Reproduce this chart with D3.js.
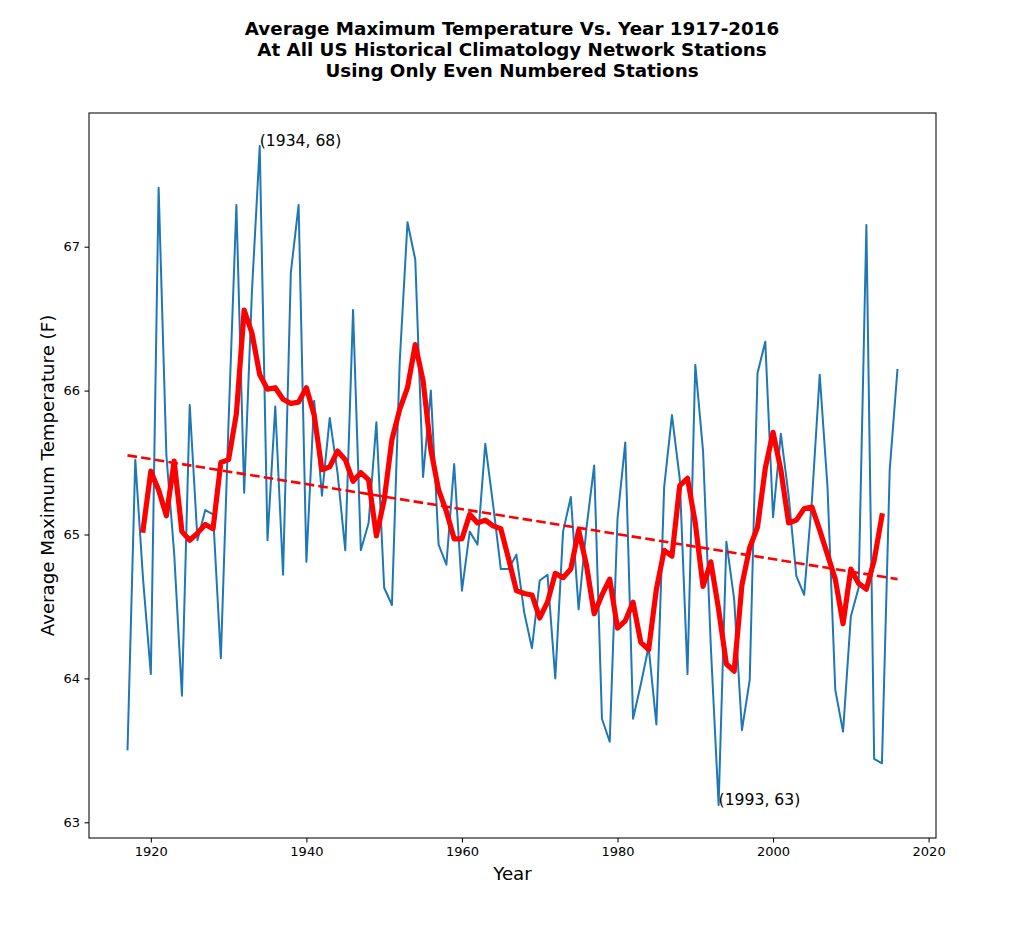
<!DOCTYPE html>
<html>
<head>
<meta charset="utf-8">
<script src="https://cdn.jsdelivr.net/npm/d3@7"></script>
<style>
body { margin: 0; background: #fff; }
text { font-family: "DejaVu Sans", sans-serif; fill: #000; }
</style>
</head>
<body>
<div id="chart"></div>
<script>
// DATA
var years = [1917, 1918, 1919, 1920, 1921, 1922, 1923, 1924, 1925, 1926,
    1927, 1928, 1929, 1930, 1931, 1932, 1933, 1934, 1935, 1936,
    1937, 1938, 1939, 1940, 1941, 1942, 1943, 1944, 1945, 1946,
    1947, 1948, 1949, 1950, 1951, 1952, 1953, 1954, 1955, 1956,
    1957, 1958, 1959, 1960, 1961, 1962, 1963, 1964, 1965, 1966,
    1967, 1968, 1969, 1970, 1971, 1972, 1973, 1974, 1975, 1976,
    1977, 1978, 1979, 1980, 1981, 1982, 1983, 1984, 1985, 1986,
    1987, 1988, 1989, 1990, 1991, 1992, 1993, 1994, 1995, 1996,
    1997, 1998, 1999, 2000, 2001, 2002, 2003, 2004, 2005, 2006,
    2007, 2008, 2009, 2010, 2011, 2012, 2013, 2014, 2015, 2016];

var temps = [63.50, 65.52, 64.69, 64.03, 67.41, 65.55, 64.87, 63.88, 65.90, 64.96,
    65.17, 65.14, 64.14, 65.79, 67.29, 65.29, 66.69, 67.70, 64.96, 65.89,
    64.72, 66.82, 67.29, 64.81, 65.93, 65.27, 65.81, 65.43, 64.89, 66.56,
    64.89, 65.08, 65.78, 64.63, 64.51, 66.20, 67.17, 66.91, 65.40, 66.00,
    64.93, 64.79, 65.49, 64.61, 65.02, 64.93, 65.63, 65.21, 64.76, 64.76,
    64.86, 64.46, 64.21, 64.68, 64.72, 64.00, 65.02, 65.26, 64.48, 65.04,
    65.48, 63.72, 63.56, 65.11, 65.64, 63.72, 63.96, 64.22, 63.68, 65.33,
    65.83, 65.39, 64.03, 66.18, 65.58, 64.22, 63.12, 64.95, 64.55, 63.64,
    63.99, 66.12, 66.34, 65.12, 65.70, 65.27, 64.71, 64.58, 65.24, 66.11,
    65.33, 63.92, 63.63, 64.43, 64.63, 67.15, 63.44, 63.41, 65.45, 66.15];

// 5 year running mean, 1919 - 2014
var avgYears = years.slice(2, 98);
var avgTemps = [65.03, 65.44, 65.31, 65.13, 65.51, 65.02, 64.96, 65.01, 65.07, 65.04,
    65.50, 65.52, 65.84, 66.56, 66.40, 66.11, 66.01, 66.02, 65.94, 65.91,
    65.92, 66.02, 65.83, 65.45, 65.47, 65.58, 65.52, 65.37, 65.43, 65.38,
    64.99, 65.24, 65.66, 65.87, 66.02, 66.32, 66.07, 65.59, 65.31, 65.16,
    64.97, 64.97, 65.14, 65.08, 65.10, 65.06, 65.04, 64.83, 64.61, 64.59,
    64.58, 64.42, 64.53, 64.73, 64.70, 64.76, 65.03, 64.79, 64.45, 64.58,
    64.69, 64.35, 64.40, 64.53, 64.25, 64.20, 64.62, 64.89, 64.85, 65.34,
    65.39, 65.08, 64.64, 64.81, 64.48, 64.10, 64.05, 64.65, 64.91, 65.05,
    65.46, 65.71, 65.45, 65.08, 65.10, 65.18, 65.19, 65.03, 64.86, 64.69,
    64.38, 64.76, 64.66, 64.62, 64.82, 65.13];

var trendYears = [1917, 2016];
var trendTemps = [65.55, 64.69];

var noteYears = [1934, 1993];
var noteTemps = [67.70, 63.12];
var noteLabels = ["(1934, 68)", "(1993, 63)"];

var xTicks = [1920, 1940, 1960, 1980, 2000, 2020];
var yTicks = [63, 64, 65, 66, 67];

var titleLines = ["Average Maximum Temperature Vs. Year 1917-2016",
    "At All US Historical Climatology Network Stations",
    "Using Only Even Numbered Stations"];

// LAYOUT
var width = 1024,
    height = 951;
var plotLeft = 89, plotRight = 936, plotTop = 113, plotBottom = 838;

var svg = d3.select("#chart").append("svg")
    .attr("width", width)
    .attr("height", height);

// matplotlib style 5% margins
var xPad = (years[years.length - 1] - years[0]) * 0.05;
var x = d3.scaleLinear()
    .domain([years[0] - xPad, years[years.length - 1] + xPad])
    .range([plotLeft, plotRight]);

var yPad = (d3.max(temps) - d3.min(temps)) * 0.05;
var y = d3.scaleLinear()
    .domain([d3.min(temps) - yPad, d3.max(temps) + yPad])
    .range([plotBottom, plotTop]);

// TITLE
svg.append("g").selectAll("text")
    .data(titleLines)
    .enter().append("text")
    .attr("x", 512)
    .attr("y", function(d, i) { return 35 + i * 21; })
    .attr("text-anchor", "middle")
    .style("font-size", "18.3px")
    .style("font-weight", "bold")
    .text(function(d) { return d; });

// LINES
var plot = svg.append("g");

var line = d3.line()
    .x(function(d) { return x(d[0]); })
    .y(function(d) { return y(d[1]); });

plot.append("path")
    .datum(d3.zip(years, temps))
    .attr("d", line)
    .attr("fill", "none")
    .attr("stroke", "#1f77b4")
    .attr("stroke-width", 2)
    .attr("stroke-linejoin", "round");

plot.append("path")
    .datum(d3.zip(avgYears, avgTemps))
    .attr("d", line)
    .attr("fill", "none")
    .attr("stroke", "#ff0000")
    .attr("stroke-width", 5.2)
    .attr("stroke-linejoin", "round")
    .attr("stroke-linecap", "square");

plot.append("path")
    .datum(d3.zip(trendYears, trendTemps))
    .attr("d", line)
    .attr("fill", "none")
    .attr("stroke", "#ff0000")
    .attr("stroke-width", 2.6)
    .attr("stroke-dasharray", "9.6,4.2");

// ANNOTATIONS
plot.selectAll("text.note")
    .data(d3.zip(noteYears, noteTemps, noteLabels))
    .enter().append("text")
    .attr("class", "note")
    .attr("x", function(d) { return x(d[0]); })
    .attr("y", function(d) { return y(d[1]); })
    .style("font-size", "15.6px")
    .text(function(d) { return d[2]; });

// AXES
var xAxis = svg.append("g")
    .attr("transform", "translate(0," + plotBottom + ")")
    .call(d3.axisBottom(x).tickValues(xTicks).tickFormat(d3.format("d")).tickSizeInner(4.5).tickSizeOuter(0).tickPadding(4.5));

var yAxis = svg.append("g")
    .attr("transform", "translate(" + plotLeft + ",0)")
    .call(d3.axisLeft(y).tickValues(yTicks).tickFormat(d3.format("d")).tickSizeInner(4.5).tickSizeOuter(0).tickPadding(4.5));

[xAxis, yAxis].forEach(function(a) {
    a.select(".domain").remove();
    a.selectAll("line").attr("stroke", "#000").attr("stroke-width", 1.04);
    a.selectAll("text")
        .style("font-family", "DejaVu Sans, sans-serif")
        .style("font-size", "13px")
        .attr("fill", "#000");
});

// frame
svg.append("rect")
    .attr("x", plotLeft)
    .attr("y", plotTop)
    .attr("width", plotRight - plotLeft)
    .attr("height", plotBottom - plotTop)
    .attr("fill", "none")
    .attr("stroke", "#000")
    .attr("stroke-width", 1.04);

// AXIS LABELS
svg.append("text")
    .attr("x", (plotLeft + plotRight) / 2)
    .attr("y", 880)
    .attr("text-anchor", "middle")
    .style("font-size", "18.2px")
    .text("Year");

svg.append("text")
    .attr("transform", "translate(54," + (plotTop + plotBottom) / 2 + ") rotate(-90)")
    .attr("text-anchor", "middle")
    .style("font-size", "18.2px")
    .text("Average Maximum Temperature (F)");
</script>
</body>
</html>
